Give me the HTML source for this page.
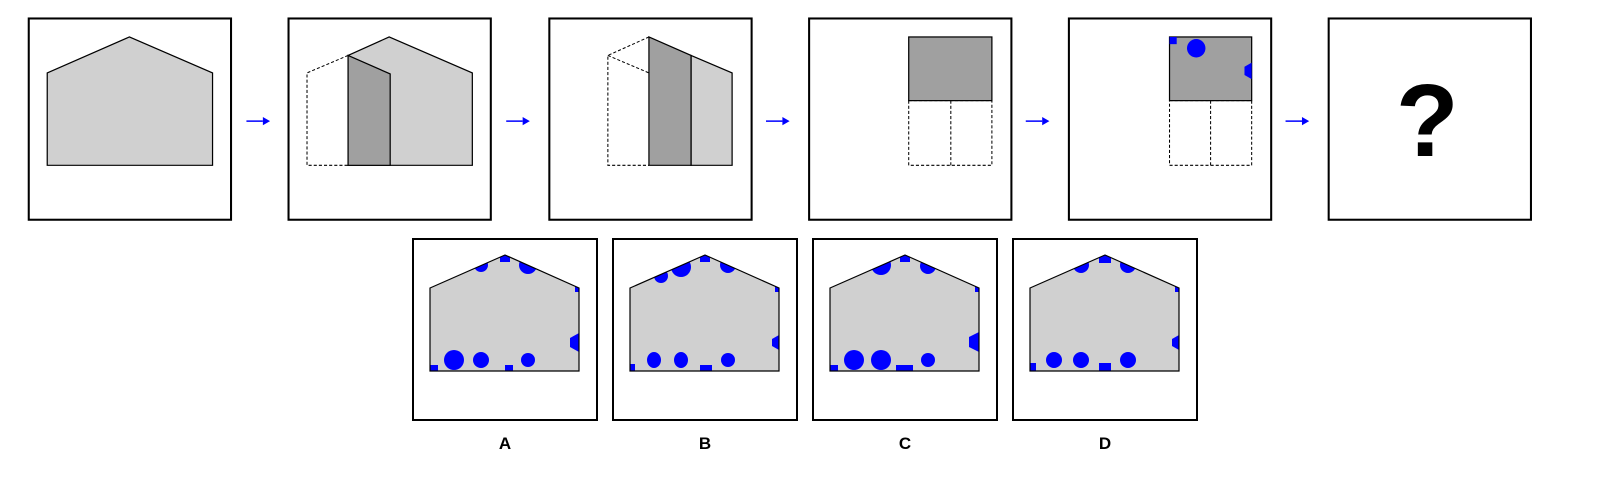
<!DOCTYPE html>
<html><head><meta charset="utf-8"><style>html,body{margin:0;padding:0;background:#fff}svg{display:block}</style></head>
<body>
<svg width="1610" height="490" viewBox="0 0 1610 490" xmlns="http://www.w3.org/2000/svg">
<defs>
<clipPath id="hA"><polygon points="430,288 505,255 579,288 579,371 430,371"/></clipPath>
<clipPath id="hB"><polygon points="630,288 705,255 779,288 779,371 630,371"/></clipPath>
<clipPath id="hC"><polygon points="830,288 905,255 979,288 979,371 830,371"/></clipPath>
<clipPath id="hD"><polygon points="1030,288 1105,255 1179,288 1179,371 1030,371"/></clipPath>
<clipPath id="r5"><rect x="1139" y="36" width="80" height="62"/></clipPath>
</defs>
<g transform="scale(1.0268)">
  <g fill="#fff" stroke="#000" stroke-width="2">
    <rect x="28" y="18" width="197" height="196"/>
    <rect x="281" y="18" width="197" height="196"/>
    <rect x="535" y="18" width="197" height="196"/>
    <rect x="788" y="18" width="197" height="196"/>
    <rect x="1041" y="18" width="197" height="196"/>
    <rect x="1294" y="18" width="197" height="196"/>
  </g>
  <g fill="#0000ff" stroke="#0000ff" stroke-width="1.5">
    <line x1="240" y1="118" x2="256" y2="118"/><polygon points="256,114 263,118 256,122" stroke="none"/>
    <line x1="493" y1="118" x2="509" y2="118"/><polygon points="509,114 516,118 509,122" stroke="none"/>
    <line x1="746" y1="118" x2="762" y2="118"/><polygon points="762,114 769,118 762,122" stroke="none"/>
    <line x1="999" y1="118" x2="1015" y2="118"/><polygon points="1015,114 1022,118 1015,122" stroke="none"/>
    <line x1="1252" y1="118" x2="1268" y2="118"/><polygon points="1268,114 1275,118 1268,122" stroke="none"/>
  </g>
  <polygon points="46,71 126,36 207,71 207,161 46,161" fill="#d0d0d0" stroke="#000" stroke-width="1.2"/>
  <g>
    <polygon points="339,54 379,36 460,71 460,161 339,161" fill="#d0d0d0" stroke="#000" stroke-width="1.2"/>
    <polygon points="339,54 380,72 380,161 339,161" fill="#a0a0a0" stroke="#000" stroke-width="1.2"/>
    <polyline points="339,54 299,71 299,161 339,161" fill="none" stroke="#000" stroke-dasharray="3,2"/>
  </g>
  <g>
    <polygon points="673,54 713,71 713,161 673,161" fill="#d0d0d0" stroke="#000" stroke-width="1.2"/>
    <polygon points="632,36 673,54 673,161 632,161" fill="#a0a0a0" stroke="#000" stroke-width="1.2"/>
    <polyline points="632,36 592,54 592,161 632,161" fill="none" stroke="#000" stroke-dasharray="3,2"/>
    <line x1="592" y1="54" x2="632" y2="71" stroke="#000" stroke-dasharray="3,2"/>
  </g>
  <g>
    <rect x="885" y="98" width="81" height="63" fill="none" stroke="#000" stroke-dasharray="3,2"/>
    <line x1="926" y1="98" x2="926" y2="161" stroke="#000" stroke-dasharray="3,2"/>
    <rect x="885" y="36" width="81" height="62" fill="#a0a0a0" stroke="#000" stroke-width="1.2"/>
  </g>
  <g>
    <rect x="1139" y="98" width="80" height="63" fill="none" stroke="#000" stroke-dasharray="3,2"/>
    <line x1="1179" y1="98" x2="1179" y2="161" stroke="#000" stroke-dasharray="3,2"/>
    <rect x="1139" y="36" width="80" height="62" fill="#a0a0a0" stroke="#000" stroke-width="1.2"/>
    <g clip-path="url(#r5)" fill="#0000ff">
      <rect x="1139" y="36" width="7" height="7"/>
      <circle cx="1165" cy="47" r="9"/>
      <polygon points="1219,61 1226,65 1226,73 1219,77 1212,73 1212,65"/>
    </g>
  </g>
  <text x="1390" y="152" font-family="Liberation Sans, sans-serif" font-weight="bold" font-size="100" text-anchor="middle" fill="#000">?</text>
</g>
<g>
  <g fill="#fff" stroke="#000" stroke-width="2">
    <rect x="413" y="239" width="184" height="181"/>
    <rect x="613" y="239" width="184" height="181"/>
    <rect x="813" y="239" width="184" height="181"/>
    <rect x="1013" y="239" width="184" height="181"/>
  </g>
  <g>
    <polygon points="430,288 505,255 579,288 579,371 430,371" fill="#d0d0d0"/>
    <g clip-path="url(#hA)" fill="#0000ff">
      <circle cx="481" cy="265" r="7"/><rect x="500" y="255" width="10" height="7"/><circle cx="528" cy="265" r="9"/>
      <rect x="575" y="286" width="6" height="6"/><polygon points="579,333 588,338 588,347 579,352 570,347 570,338"/>
      <rect x="430" y="365" width="8" height="6"/><circle cx="454" cy="360" r="10"/><circle cx="481" cy="360" r="8"/><rect x="505" y="365" width="8" height="6"/><circle cx="528" cy="360" r="7"/>
    </g>
    <polygon points="430,288 505,255 579,288 579,371 430,371" fill="none" stroke="#000" stroke-width="1.2"/>
  </g>
  <g>
    <polygon points="630,288 705,255 779,288 779,371 630,371" fill="#d0d0d0"/>
    <g clip-path="url(#hB)" fill="#0000ff">
      <circle cx="661" cy="276" r="7"/><circle cx="681" cy="267" r="10"/><rect x="700" y="255" width="10" height="7"/><circle cx="728" cy="265" r="8"/>
      <rect x="775" y="286" width="6" height="6"/><polygon points="779,335 786,339 786,346 779,350 772,346 772,339"/>
      <rect x="630" y="364" width="5" height="7"/><ellipse cx="654" cy="360" rx="7" ry="8"/><ellipse cx="681" cy="360" rx="7" ry="8"/><rect x="700" y="365" width="12" height="6"/><circle cx="728" cy="360" r="7"/>
    </g>
    <polygon points="630,288 705,255 779,288 779,371 630,371" fill="none" stroke="#000" stroke-width="1.2"/>
  </g>
  <g>
    <polygon points="830,288 905,255 979,288 979,371 830,371" fill="#d0d0d0"/>
    <g clip-path="url(#hC)" fill="#0000ff">
      <circle cx="881" cy="265" r="10"/><rect x="900" y="255" width="10" height="7"/><circle cx="928" cy="266" r="8"/>
      <rect x="975" y="286" width="6" height="6"/><polygon points="979,332 989,337 989,347 979,352 969,347 969,337"/>
      <rect x="830" y="365" width="8" height="6"/><circle cx="854" cy="360" r="10"/><circle cx="881" cy="360" r="10"/><rect x="896" y="365" width="17" height="6"/><circle cx="928" cy="360" r="7"/>
    </g>
    <polygon points="830,288 905,255 979,288 979,371 830,371" fill="none" stroke="#000" stroke-width="1.2"/>
  </g>
  <g>
    <polygon points="1030,288 1105,255 1179,288 1179,371 1030,371" fill="#d0d0d0"/>
    <g clip-path="url(#hD)" fill="#0000ff">
      <circle cx="1081" cy="265" r="8"/><rect x="1099" y="255" width="12" height="8"/><circle cx="1128" cy="265" r="8"/>
      <rect x="1175" y="286" width="6" height="6"/><polygon points="1179,335 1186,339 1186,346 1179,350 1172,346 1172,339"/>
      <rect x="1030" y="363" width="6" height="8"/><circle cx="1054" cy="360" r="8"/><circle cx="1081" cy="360" r="8"/><rect x="1099" y="363" width="12" height="8"/><circle cx="1128" cy="360" r="8"/>
    </g>
    <polygon points="1030,288 1105,255 1179,288 1179,371 1030,371" fill="none" stroke="#000" stroke-width="1.2"/>
  </g>
  <g font-family="Liberation Sans, sans-serif" font-weight="bold" font-size="17" text-anchor="middle" fill="#000">
    <text x="505" y="449">A</text>
    <text x="705" y="449">B</text>
    <text x="905" y="449">C</text>
    <text x="1105" y="449">D</text>
  </g>
</g>
</svg>
</body></html>
